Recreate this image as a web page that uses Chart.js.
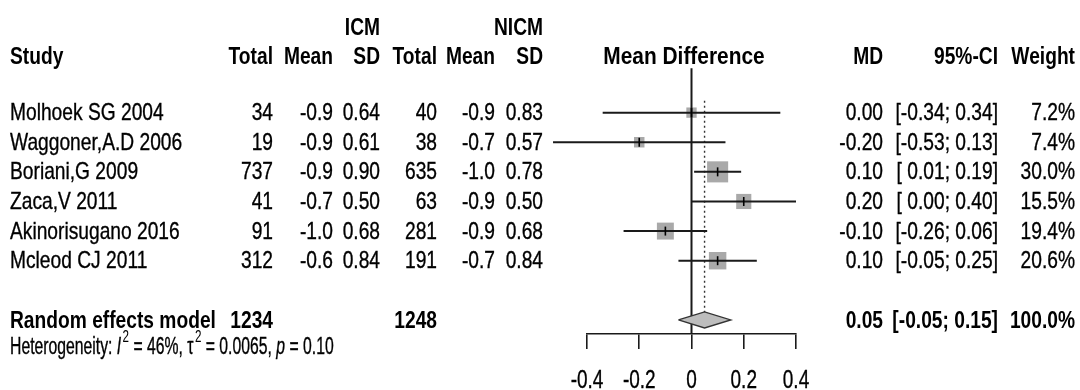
<!DOCTYPE html>
<html>
<head>
<meta charset="utf-8">
<script src="https://cdn.jsdelivr.net/npm/chart.js@4.4.1/dist/chart.umd.min.js"></script>
<style>
html, body { margin: 0; background: #fff; }
#wrap { width: 1080px; height: 390px; }
</style>
</head>
<body>
<div id="wrap"><canvas id="forest" width="1080" height="390"></canvas></div>
<script>
// study rows
const studies = ['Molhoek SG 2004', 'Waggoner,A.D 2006', 'Boriani,G 2009', 'Zaca,V 2011', 'Akinorisugano 2016', 'Mcleod CJ 2011'];
const icmTotal = [34, 19, 737, 41, 91, 312];
const icmMean = [-0.9, -0.9, -0.9, -0.7, -1.0, -0.6];
const icmSD = [0.64, 0.61, 0.90, 0.50, 0.68, 0.84];
const nicmTotal = [40, 38, 635, 63, 281, 191];
const nicmMean = [-0.9, -0.7, -1.0, -0.9, -0.9, -0.7];
const nicmSD = [0.83, 0.57, 0.78, 0.50, 0.68, 0.84];
const md = [0.00, -0.20, 0.10, 0.20, -0.10, 0.10];
const ciLow = [-0.34, -0.53, 0.01, 0.00, -0.26, -0.05];
const ciHigh = [0.34, 0.13, 0.19, 0.40, 0.06, 0.25];
const weight = [7.2, 7.4, 30.0, 15.5, 19.4, 20.6];

// pooled (random effects)
const pooledTotals = [1234, 1248];
const pooledMD = 0.05;
const pooledLow = -0.05;
const pooledHigh = 0.15;
const pooledWeight = 100.0;
const hetI2 = 46;
const hetTau2 = '0.0065';
const hetP = '0.10';

// axis ticks
const tickValues = [-0.4, -0.2, 0, 0.2, 0.4];
const tickLabels = ['-0.4', '-0.2', '0', '0.2', '0.4'];

// no narrow font installed, so text is squeezed horizontally
const FONT = '"Liberation Sans", Arial, sans-serif';
const SX = 0.8;
const INK = '#000';
const pooledRow = studies.length + 2;
const diamondHalf = 0.27;

let datasets = [];
// weight squares (drawn first, behind the lines)
datasets.push({
  type: 'scatter',
  order: 5,
  data: md.map((v, i) => ({x: v, y: i + 1})),
  pointStyle: 'rect',
  pointRadius: weight.map(w => 2.72 * Math.sqrt(w)),
  backgroundColor: '#a9a9a9',
  borderWidth: 0,
  clip: false
});
// confidence intervals
studies.forEach((s, i) => {
  datasets.push({
    type: 'scatter',
    order: 3,
    showLine: true,
    data: [{x: ciLow[i], y: i + 1}, {x: ciHigh[i], y: i + 1}],
    borderColor: '#1a1a1a',
    borderWidth: 2,
    pointRadius: 0,
    clip: false
  });
});
// point estimate ticks
datasets.push({
  type: 'scatter',
  order: 1,
  data: md.map((v, i) => ({x: v, y: i + 1})),
  pointStyle: 'line',
  pointRotation: 90,
  pointRadius: 4.5,
  borderColor: '#000',
  borderWidth: 1.6,
  clip: false
});
// line of no effect
datasets.push({
  type: 'scatter',
  order: 3,
  showLine: true,
  data: [{x: 0, y: -0.5}, {x: 0, y: 8.475}],
  borderColor: '#1a1a1a',
  borderWidth: 2,
  pointRadius: 0,
  clip: false
});
// pooled estimate (dotted)
datasets.push({
  type: 'scatter',
  order: 3,
  showLine: true,
  data: [{x: pooledMD, y: 0.6}, {x: pooledMD, y: pooledRow - diamondHalf}],
  borderColor: '#333',
  borderWidth: 1.4,
  borderDash: [2, 3],
  pointRadius: 0,
  clip: false
});
// diamond
datasets.push({
  type: 'scatter',
  order: 2,
  showLine: true,
  data: [
    {x: pooledLow, y: pooledRow}, {x: pooledMD, y: pooledRow - diamondHalf},
    {x: pooledHigh, y: pooledRow}, {x: pooledMD, y: pooledRow + diamondHalf},
    {x: pooledLow, y: pooledRow}
  ],
  borderColor: '#333',
  borderWidth: 1.4,
  backgroundColor: '#bdbdbd',
  fill: 'shape',
  pointRadius: 0,
  clip: false
});

function txt(ctx, s, x, y, align, bold, size, sx) {
  ctx.save();
  ctx.font = (bold ? 'bold ' : '') + (size || 24) + 'px ' + FONT;
  ctx.textAlign = align;
  ctx.translate(x, y);
  ctx.scale(sx || SX, 1);
  ctx.fillText(s, 0, 0);
  if (!bold) {
    ctx.lineWidth = 0.35;
    ctx.strokeStyle = INK;
    ctx.strokeText(s, 0, 0);
  }
  ctx.restore();
}

const ciStr = (lo, hi) => '[' + (lo < 0 ? '-' : ' ') + Math.abs(lo).toFixed(2) + '; ' + hi.toFixed(2) + ']';

const tablePlugin = {
  id: 'table',
  afterDraw(chart) {
    const ctx = chart.ctx;
    const ys = chart.scales.y;
    const xs = chart.scales.x;
    const py = k => ys.getPixelForValue(k);
    ctx.save();
    ctx.fillStyle = INK;
    ctx.textBaseline = 'middle';

    // headers
    const g = py(-1.85), h = py(-0.87);
    txt(ctx, 'ICM', 380, g, 'right', true);
    txt(ctx, 'NICM', 543, g, 'right', true);
    txt(ctx, 'Study', 10, h, 'left', true);
    txt(ctx, 'Total', 273, h, 'right', true);
    txt(ctx, 'Mean', 333, h, 'right', true);
    txt(ctx, 'SD', 380, h, 'right', true);
    txt(ctx, 'Total', 437, h, 'right', true);
    txt(ctx, 'Mean', 495, h, 'right', true);
    txt(ctx, 'SD', 543, h, 'right', true);
    txt(ctx, 'Mean Difference', 684, h, 'center', true, 24, 0.87);
    txt(ctx, 'MD', 883, h, 'right', true);
    txt(ctx, '95%-CI', 998, h, 'right', true);
    txt(ctx, 'Weight', 1075, h, 'right', true);

    studies.forEach((s, i) => {
      const y = py(i + 1) + 1;
      txt(ctx, s, 10, y, 'left');
      txt(ctx, String(icmTotal[i]), 273, y, 'right');
      txt(ctx, icmMean[i].toFixed(1), 333, y, 'right');
      txt(ctx, icmSD[i].toFixed(2), 380, y, 'right');
      txt(ctx, String(nicmTotal[i]), 437, y, 'right');
      txt(ctx, nicmMean[i].toFixed(1), 495, y, 'right');
      txt(ctx, nicmSD[i].toFixed(2), 543, y, 'right');
      txt(ctx, md[i].toFixed(2), 883, y, 'right');
      txt(ctx, ciStr(ciLow[i], ciHigh[i]), 998, y, 'right');
      txt(ctx, weight[i].toFixed(1) + '%', 1075, y, 'right');
    });

    const r = py(pooledRow) + 1;
    txt(ctx, 'Random effects model', 10, r, 'left', true);
    txt(ctx, String(pooledTotals[0]), 273, r, 'right', true);
    txt(ctx, String(pooledTotals[1]), 437, r, 'right', true);
    txt(ctx, pooledMD.toFixed(2), 883, r, 'right', true);
    txt(ctx, ciStr(pooledLow, pooledHigh), 998, r, 'right', true);
    txt(ctx, pooledWeight.toFixed(1) + '%', 1075, r, 'right', true);

    // heterogeneity line with superscripts
    const hy = py(pooledRow + 0.95);
    const hsx = 0.685;
    const parts = [
      ['Heterogeneity: ', ''], ['I', 'italic '], ['2', 'sup'], [' = ' + hetI2 + '%, \u03c4', ''],
      ['2', 'sup'], [' = ' + hetTau2 + ', ', ''], ['p', 'italic '], [' = ' + hetP, '']
    ];
    ctx.save();
    ctx.translate(10, hy);
    ctx.scale(hsx, 1);
    ctx.textAlign = 'left';
    ctx.strokeStyle = INK;
    ctx.lineWidth = 0.35;
    let x = 0;
    parts.forEach(([s, st]) => {
      if (st === 'sup') {
        ctx.font = '17px ' + FONT;
        ctx.fillText(s, x + 2, -11);
        x += ctx.measureText(s).width + 2;
      } else {
        ctx.font = st + '23px ' + FONT;
        ctx.fillText(s, x, 0);
        ctx.strokeText(s, x, 0);
        x += ctx.measureText(s).width;
      }
    });
    ctx.restore();

    // axis tick labels, placed on the x scale's tick positions
    tickValues.forEach((v, i) => {
      txt(ctx, tickLabels[i], xs.getPixelForValue(v), xs.top + 47, 'center', false, 25, 0.76);
    });
    ctx.restore();
  }
};

new Chart(document.getElementById('forest'), {
  type: 'scatter',
  data: {datasets},
  options: {
    responsive: false,
    animation: false,
    layout: {padding: {left: 587, right: 284, top: 0, bottom: 0}},
    plugins: {legend: {display: false}, tooltip: {enabled: false}},
    scales: {
      x: {
        type: 'linear',
        min: -0.4,
        max: 0.4,
        afterBuildTicks: s => { s.ticks = tickValues.map(v => ({value: v})); },
        afterFit: s => { s.height = 56; },
        grid: {drawOnChartArea: false, drawTicks: true, tickLength: 15, color: '#1a1a1a', lineWidth: 1.6},
        border: {display: true, color: '#1a1a1a', width: 1.6},
        ticks: {
          callback: (v, i) => tickLabels[i],
          color: 'rgba(0,0,0,0)',
          font: {family: FONT, size: 24},
          padding: 12,
          maxRotation: 0
        }
      },
      y: {
        type: 'linear',
        display: false,
        reverse: true,
        min: -2.30,
        max: 8.475
      }
    }
  },
  plugins: [tablePlugin]
});
</script>
</body>
</html>
